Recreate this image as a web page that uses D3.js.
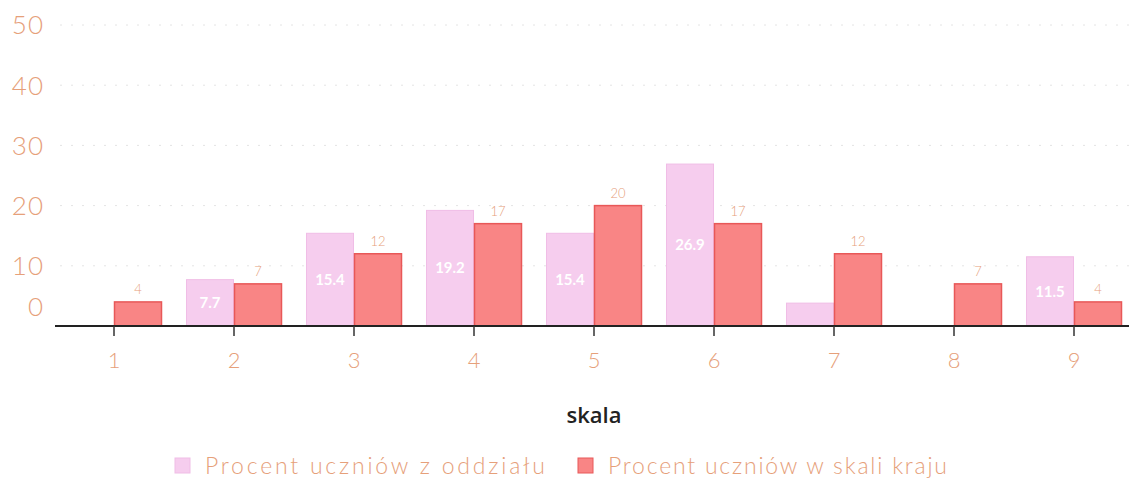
<!DOCTYPE html>
<html><head><meta charset="utf-8">
<script src="https://cdn.jsdelivr.net/npm/d3@7"></script>
<style>body{margin:0;background:#fff}svg{display:block}</style>
</head><body>
<svg id="c" width="1129" height="495"></svg>
<script>
const categories = ["1","2","3","4","5","6","7","8","9"];
const classValues = [0, 7.7, 15.4, 19.2, 15.4, 26.9, 3.8, 0, 11.5];
const countryValues = [4, 7, 12, 17, 20, 17, 12, 7, 4];
const classLabels = ["", "7.7", "15.4", "19.2", "15.4", "26.9", "", "", "11.5"];
const yTicks = [0, 10, 20, 30, 40, 50];
const seriesNames = ["Procent uczniów z oddziału", "Procent uczniów w skali kraju"];
const xTitle = "skala";

const svg = d3.select("#c");
const M = {left: 54, right: -5, top: 25, bottom: 169};
const W = 1129, H = 495;
const x = d3.scaleBand().domain(categories).range([M.left, W - M.right]).paddingInner(0.2).paddingOuter(0.1);
const y = d3.scaleLinear().domain([0, 50]).range([H - M.bottom, M.top]);
const font = "Lato, 'Open Sans', sans-serif";
const txtCol = "#e6a07a";
const pinkFill = "#f6cdee", pinkStroke = "#f0bde6";
const redFill = "#f98585", redStroke = "#e85858";

// grid
svg.append("g").selectAll("line").data(yTicks.filter(d => d > 0)).join("line")
  .attr("x1", 60).attr("x2", W).attr("y1", d => y(d)).attr("y2", d => y(d))
  .attr("stroke", "#e4e4e4").attr("stroke-width", 1).attr("stroke-dasharray", "2,9");

// y labels
svg.append("g").selectAll("text").data(yTicks).join("text")
  .attr("x", 44).attr("y", d => y(d) + (d === 0 ? -19 : 0)).attr("dy", "0.36em")
  .attr("text-anchor", "end").attr("font-family", font).attr("font-weight", 300)
  .attr("font-size", 26).attr("letter-spacing", 1).attr("fill", txtCol).text(d => d);

const bw = x.bandwidth() / 2;
const g = svg.append("g");
// pink bars
g.selectAll("rect.p").data(categories).join("rect").attr("class", "p")
  .filter((d, i) => classValues[i] > 0)
  .attr("x", d => x(d) + 0.5).attr("width", bw - 1)
  .attr("y", (d) => y(classValues[categories.indexOf(d)]))
  .attr("height", d => y(0) - y(classValues[categories.indexOf(d)]))
  .attr("fill", pinkFill).attr("stroke", pinkStroke).attr("stroke-width", 1);
// red bars
g.selectAll("rect.r").data(categories).join("rect").attr("class", "r")
  .attr("x", d => x(d) + bw + 0.5).attr("width", bw - 1)
  .attr("y", (d, i) => y(countryValues[i]))
  .attr("height", (d, i) => y(0) - y(countryValues[i]))
  .attr("fill", redFill).attr("stroke", redStroke).attr("stroke-width", 1.5);

// pink labels
g.selectAll("text.p").data(categories).join("text").attr("class", "p")
  .attr("x", d => x(d) + bw / 2)
  .attr("y", (d, i) => (y(classValues[i]) + y(0)) / 2).attr("dy", "0.35em")
  .attr("text-anchor", "middle").attr("font-family", font).attr("font-weight", 700)
  .attr("font-size", 15).attr("fill", "#ffffff").text((d, i) => classLabels[i]);
// red labels
g.selectAll("text.r").data(categories).join("text").attr("class", "r")
  .attr("x", d => x(d) + bw * 1.5)
  .attr("y", (d, i) => y(countryValues[i]) - 8)
  .attr("text-anchor", "middle").attr("font-family", font).attr("font-weight", 300)
  .attr("font-size", 13).attr("fill", txtCol).text((d, i) => countryValues[i]);

// x axis
const xa = svg.append("g").attr("transform", `translate(0,${y(0)})`)
  .call(d3.axisBottom(x).tickSize(10).tickPadding(16).tickSizeOuter(0));
xa.select(".domain").attr("stroke", "#222").attr("stroke-width", 2)
  .attr("d", `M55,0H${W}`);
xa.selectAll(".tick line").attr("stroke", "#333").attr("stroke-width", 1.5);
xa.selectAll(".tick text").attr("font-family", font).attr("font-weight", 300)
  .attr("font-size", 22).attr("fill", txtCol);

svg.append("text").attr("x", x("5") + x.bandwidth() / 2).attr("y", 423)
  .attr("text-anchor", "middle").attr("font-family", "'Open Sans', sans-serif")
  .attr("font-weight", 600).attr("font-size", 22).attr("fill", "#222").text(xTitle);

// legend
const leg = svg.append("g");
const lx = [175, 578];
const lw = [340, 339];
const lcol = [[pinkFill, pinkStroke], [redFill, redStroke]];
seriesNames.forEach((n, i) => {
  leg.append("rect").attr("x", lx[i]).attr("y", 458).attr("width", 15).attr("height", 15)
    .attr("fill", lcol[i][0]).attr("stroke", lcol[i][1]);
  leg.append("text").attr("x", lx[i] + 30).attr("y", 466).attr("dy", "0.35em")
    .attr("font-family", font).attr("font-weight", 300).attr("font-size", 23)
    .attr("textLength", lw[i]).attr("lengthAdjust", "spacing")
    .attr("fill", txtCol).text(n);
});
</script>
</body></html>
